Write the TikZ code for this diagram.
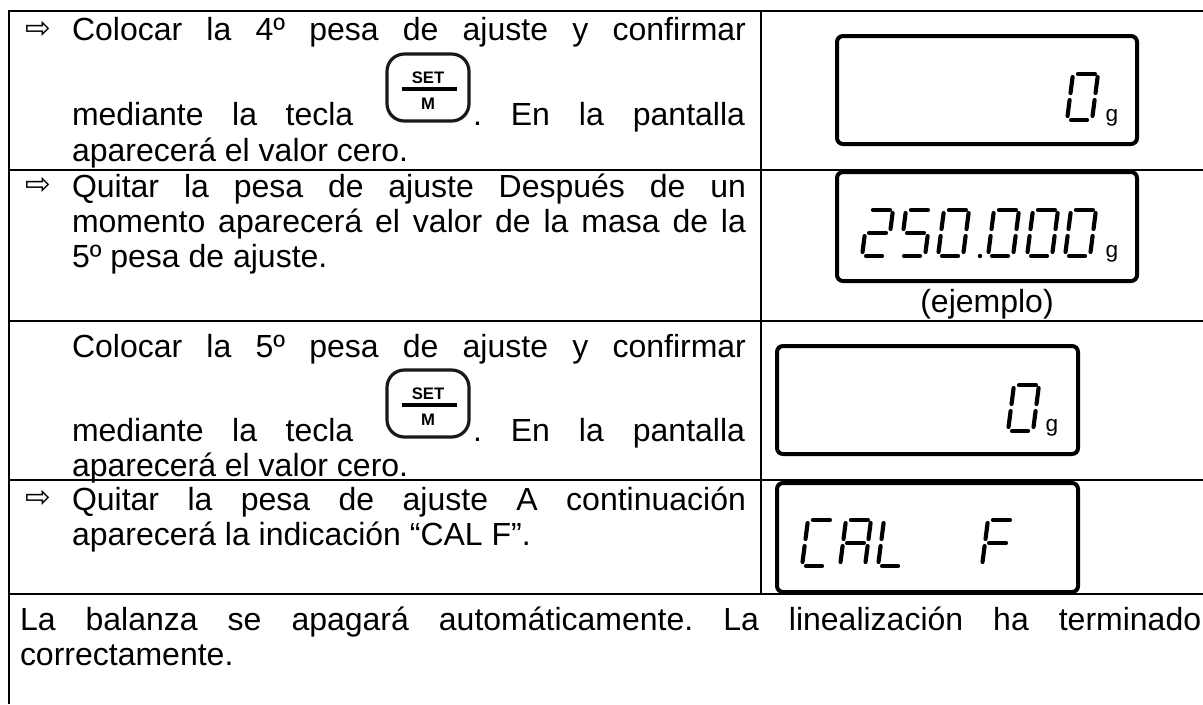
\documentclass[tikz,border=0pt]{standalone}
\usepackage{fontspec}
\setmainfont{Liberation Sans}
\newfontfamily\arrowfont{DejaVu Sans}
\frenchspacing
\newcommand{\bodytext}{\fontsize{24}{27}\selectfont}
\newcommand{\jline}[2]{\makebox[#1][s]{#2}}
\tikzset{
  txt/.style={anchor=base west,inner sep=0pt,outer sep=0pt,font=\bodytext},
  arr/.style={anchor=base west,inner sep=0pt,outer sep=0pt,font=\arrowfont\fontsize{23}{23}\selectfont},
  grid/.style={line width=1.7pt,black},
  lcd/.style={draw=black,line width=3pt,rounded corners=4.5pt,fill=white},
  seg/.style={line width=3.1pt,line cap=round,black},
  unit/.style={anchor=base,inner sep=0pt,font=\fontsize{17}{17}\selectfont},
  keyb/.style={draw=black!90,line width=2.4pt,rounded corners=13pt},
  keyt/.style={inner sep=0pt,font=\bfseries\fontsize{12.5}{12.5}\selectfont}
}
% seven-segment glyph: lower left x, y, list of segments
\newcommand{\segA}{\draw[seg] (5,-46)--(22,-46);}
\newcommand{\segB}{\draw[seg] (25,-43)--(25,-27);}
\newcommand{\segC}{\draw[seg] (25,-20)--(25,-4);}
\newcommand{\segD}{\draw[seg] (4,0)--(20,0);}
\newcommand{\segE}{\draw[seg] (0,-20)--(0,-4);}
\newcommand{\segF}{\draw[seg] (0,-43)--(0,-27);}
\newcommand{\segG}{\draw[seg] (4,-23)--(21,-23);}
\newcommand{\glyph}[3]{\begin{scope}[shift={(#1,#2)},xslant=0.13]#3\end{scope}}
\newcommand{\gZero}[2]{\glyph{#1}{#2}{\segA\segB\segC\segD\segE\segF}}
\newcommand{\keyicon}[3]{%
  \draw[keyb] (#1,#2) rectangle ++(82,67);
  \node[keyt] (#3s) at ([xshift=0.75pt*41,yshift=-0.75pt*24]#1,#2) {SET};
  \node[keyt] (#3m) at ([xshift=0.75pt*41,yshift=-0.75pt*50]#1,#2) {M};
  \draw[line width=2.3pt] ([xshift=0.75pt*15,yshift=-0.75pt*35]#1,#2) -- ([xshift=0.75pt*70,yshift=-0.75pt*35]#1,#2);
}
\begin{document}
\begin{tikzpicture}[x=0.75pt,y=-0.75pt]
\useasboundingbox (0,0) rectangle (1203,704);
% table
\draw[grid] (9,704) -- (9,11);
\draw[grid] (761,11) -- (761,594);
\draw[grid] (8,11) -- (1203,11);
\draw[grid] (8,170) -- (1203,170);
\draw[grid] (8,321) -- (1203,321);
\draw[grid] (8,480) -- (1203,480);
\draw[line width=2.2pt] (8,594) -- (1203,594);
% row 1
\node[arr] (a1) at (25,38) {⇨};
\node[txt] (t11) at (72,40.5) {\jline{505.5pt}{Colocar la 4º pesa de ajuste y confirmar}};
\node[txt] (t12) at (72,125) {\jline{211pt}{mediante la tecla}};
\node[txt] (t13) at (473,125) {\jline{204pt}{. En la pantalla}};
\node[txt] (t14) at (72,161) {aparecerá el valor cero.};
\keyicon{387}{54}{ka}
% row 2
\node[arr] (a2) at (25,194) {⇨};
\node[txt] (t21) at (72,197) {\jline{505.5pt}{Quitar la pesa de ajuste Después de un}};
\node[txt] (t22) at (72,232) {\jline{505.5pt}{momento aparecerá el valor de la masa de la}};
\node[txt] (t23) at (72,267) {5º pesa de ajuste.};
% row 3
\node[txt] (t31) at (72,357) {\jline{505.5pt}{Colocar la 5º pesa de ajuste y confirmar}};
\node[txt] (t32) at (72,441) {\jline{211pt}{mediante la tecla}};
\node[txt] (t33) at (473,441) {\jline{204pt}{. En la pantalla}};
\node[txt] (t34) at (72,476) {aparecerá el valor cero.};
\keyicon{387}{370}{kb}
% row 4
\node[arr] (a4) at (25,507) {⇨};
\node[txt] (t41) at (72,510) {\jline{505.5pt}{Quitar la pesa de ajuste A continuación}};
\node[txt] (t42) at (72,545) {aparecerá la indicación “CAL F”.};
% last row
\node[txt] (t51) at (20,630) {\jline{886pt}{La balanza se apagará automáticamente. La linealización ha terminado}};
\node[txt] (t52) at (20,665) {correctamente.};
% display 1
\draw[lcd] (837,36) rectangle (1137,144);
\gZero{1067}{120}
\node[unit] (g1) at (1112,121) {g};
% display 2
\draw[lcd] (837,172) rectangle (1137,281);
\glyph{862}{256}{\segA\segB\segG\segE\segD}
\glyph{900}{256}{\segA\segF\segG\segC\segD}
\gZero{938}{256}
\fill (980,256) circle (2.2);
\gZero{988}{256}
\gZero{1027}{256}
\gZero{1065}{256}
\node[unit] (g2) at (1112,257) {g};
\node[txt,anchor=base] (ej) at (987,312) {(ejemplo)};
% display 3
\draw[lcd] (777,346) rectangle (1078,454);
\gZero{1008}{431}
\node[unit] (g3) at (1052,431) {g};
% display 4
\draw[lcd] (777,483) rectangle (1078,592);
\glyph{802}{566}{\segA\segF\segE\segD}
\glyph{840}{566}{\segA\segB\segC\segE\segF\segG}
\glyph{878}{566}{\segF\segE\segD}
\glyph{982}{566}{\segA\segF\segE\segG}
\end{tikzpicture}
\end{document}
